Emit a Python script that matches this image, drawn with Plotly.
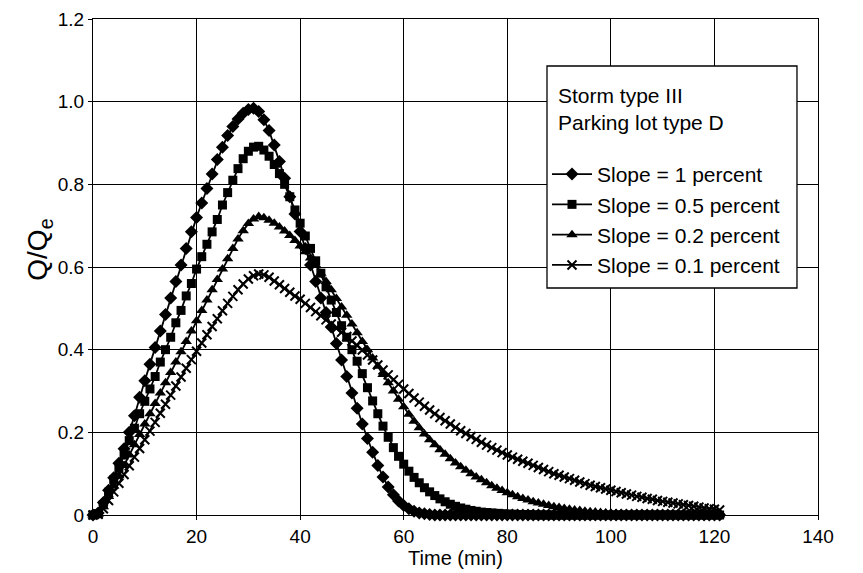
import plotly.graph_objects as go

time_min = list(range(0, 122))

slope_1 = [
    0, 0.005, 0.03, 0.06, 0.09, 0.125, 0.16, 0.20, 0.24, 0.285,
    0.325, 0.365, 0.405, 0.445, 0.485, 0.525, 0.565, 0.605, 0.645, 0.685,
    0.72, 0.755, 0.79, 0.825, 0.86, 0.89, 0.918, 0.94, 0.958, 0.972,
    0.981, 0.984, 0.976, 0.956, 0.93, 0.895, 0.855, 0.815, 0.77, 0.728,
    0.686, 0.645, 0.605, 0.565, 0.525, 0.49, 0.455, 0.415, 0.375, 0.335,
    0.295, 0.258, 0.22, 0.185, 0.152, 0.12, 0.092, 0.068, 0.049, 0.034,
    0.023, 0.015, 0.009, 0.005, 0.003, 0.001, 0, 0, 0, 0,
    0, 0, 0, 0, 0, 0, 0, 0, 0, 0,
    0, 0, 0, 0, 0, 0, 0, 0, 0, 0,
    0, 0, 0, 0, 0, 0, 0, 0, 0, 0,
    0, 0, 0, 0, 0, 0, 0, 0, 0, 0,
    0, 0, 0, 0, 0, 0, 0, 0, 0, 0,
    0, 0,
]

slope_05 = [
    0, 0.003, 0.025, 0.055, 0.085, 0.115, 0.145, 0.18, 0.21, 0.245,
    0.275, 0.305, 0.335, 0.37, 0.40, 0.43, 0.465, 0.495, 0.53, 0.56,
    0.595, 0.625, 0.655, 0.685, 0.715, 0.75, 0.78, 0.81, 0.838, 0.862,
    0.88, 0.89, 0.892, 0.883, 0.868, 0.848, 0.826, 0.80, 0.77, 0.738,
    0.706, 0.675, 0.645, 0.615, 0.585, 0.552, 0.52, 0.49, 0.458, 0.43,
    0.40, 0.372, 0.342, 0.308, 0.276, 0.245, 0.215, 0.188, 0.163, 0.142,
    0.123, 0.106, 0.091, 0.078, 0.066, 0.056, 0.047, 0.039, 0.032, 0.026,
    0.021, 0.017, 0.014, 0.011, 0.009, 0.007, 0.006, 0.005, 0.004, 0.003,
    0.002, 0.002, 0.001, 0.001, 0.001, 0, 0, 0, 0, 0,
    0, 0, 0, 0, 0, 0, 0, 0, 0, 0,
    0, 0, 0, 0, 0, 0, 0, 0, 0, 0,
    0, 0, 0, 0, 0, 0, 0, 0, 0, 0,
    0, 0,
]

slope_02 = [
    0, 0.002, 0.02, 0.045, 0.07, 0.095, 0.12, 0.145, 0.17, 0.195,
    0.22, 0.245, 0.27, 0.295, 0.32, 0.345, 0.37, 0.395, 0.42, 0.445,
    0.47, 0.495, 0.52, 0.545, 0.57, 0.595, 0.62, 0.645, 0.668, 0.688,
    0.705, 0.716, 0.722, 0.719, 0.713, 0.706, 0.697, 0.687, 0.676, 0.664,
    0.651, 0.637, 0.622, 0.605, 0.585, 0.565, 0.545, 0.524, 0.503, 0.483,
    0.462, 0.441, 0.42, 0.40, 0.38, 0.36, 0.34, 0.32, 0.30, 0.28,
    0.262, 0.244, 0.227, 0.211, 0.196, 0.182, 0.17, 0.158, 0.147, 0.136,
    0.126, 0.117, 0.108, 0.10, 0.092, 0.085, 0.078, 0.071, 0.065, 0.059,
    0.054, 0.049, 0.044, 0.04, 0.036, 0.032, 0.029, 0.026, 0.023, 0.02,
    0.018, 0.016, 0.014, 0.012, 0.011, 0.009, 0.008, 0.007, 0.006, 0.005,
    0.004, 0.003, 0.003, 0.002, 0.002, 0.002, 0.001, 0.001, 0.001, 0.001,
    0.001, 0, 0, 0, 0, 0, 0, 0, 0, 0,
    0, 0,
]

slope_01 = [
    0, 0.002, 0.015, 0.035, 0.056, 0.077, 0.098, 0.119, 0.14, 0.161,
    0.182, 0.203, 0.224, 0.246, 0.268, 0.29, 0.312, 0.334, 0.355, 0.376,
    0.396, 0.416, 0.436, 0.456, 0.475, 0.494, 0.512, 0.529, 0.545, 0.559,
    0.571, 0.579, 0.583, 0.581, 0.575, 0.566, 0.557, 0.548, 0.539, 0.53,
    0.522, 0.512, 0.502, 0.492, 0.482, 0.472, 0.462, 0.452, 0.442, 0.432,
    0.421, 0.41, 0.399, 0.387, 0.375, 0.363, 0.351, 0.339, 0.327, 0.316,
    0.305, 0.294, 0.283, 0.273, 0.263, 0.254, 0.245, 0.236, 0.228, 0.22,
    0.212, 0.204, 0.197, 0.19, 0.183, 0.176, 0.169, 0.163, 0.157, 0.151,
    0.145, 0.14, 0.135, 0.13, 0.125, 0.12, 0.115, 0.11, 0.105, 0.10,
    0.096, 0.092, 0.088, 0.084, 0.08, 0.076, 0.072, 0.069, 0.066, 0.063,
    0.06, 0.057, 0.054, 0.051, 0.048, 0.045, 0.043, 0.04, 0.038, 0.035,
    0.033, 0.031, 0.029, 0.027, 0.025, 0.023, 0.021, 0.019, 0.017, 0.015,
    0.014, 0.012,
]

series_names = [
    "Slope = 1 percent",
    "Slope = 0.5 percent",
    "Slope = 0.2 percent",
    "Slope = 0.1 percent",
]
series_values = [slope_1, slope_05, slope_02, slope_01]
series_symbols = ["diamond", "square", "triangle-up", "x-thin"]
series_sizes = [10, 9, 10, 9]

legend_header = ["Storm type III", "Parking lot type D"]

x_tick_vals = [0, 20, 40, 60, 80, 100, 120, 140]
x_tick_text = ["0", "20", "40", "60", "80", "100", "120", "140"]
y_tick_vals = [0, 0.2, 0.4, 0.6, 0.8, 1.0, 1.2]
y_tick_text = ["0", "0.2", "0.4", "0.6", "0.8", "1.0", "1.2"]

FONT = "Liberation Sans, Arial, sans-serif"

fig = go.Figure()
for name, vals, sym, sz in zip(series_names, series_values, series_symbols, series_sizes):
    marker = dict(symbol=sym, size=sz, color="black")
    if sym == "x-thin":
        marker["line"] = dict(color="black", width=2)
    fig.add_trace(go.Scatter(
        x=time_min, y=vals, name=name, mode="lines+markers",
        line=dict(color="black", width=1.8),
        marker=marker, cliponaxis=False,
    ))

# legend frame (drawn as a shape so header lines can sit inside it)
fig.add_shape(type="rect", xref="paper", yref="paper",
              x0=0.6262, x1=0.971, y0=0.4577, y1=0.9052,
              line=dict(color="black", width=1.3), fillcolor="white",
              layer="above")
fig.add_annotation(text=legend_header[0], xref="paper", yref="paper",
                   x=0.638, y=0.8448, xanchor="left", yanchor="middle",
                   showarrow=False, font=dict(family=FONT, size=21))
fig.add_annotation(text=legend_header[1], xref="paper", yref="paper",
                   x=0.638, y=0.7923, xanchor="left", yanchor="middle",
                   showarrow=False, font=dict(family=FONT, size=21))
fig.add_annotation(text="Q/Q<sub>e</sub>", xref="paper", yref="paper",
                   x=-0.073, y=0.535, xanchor="center", yanchor="middle",
                   textangle=-90, showarrow=False,
                   font=dict(family=FONT, size=28))

fig.update_layout(
    width=863, height=573,
    margin=dict(l=85, r=53, t=11, b=66, autoexpand=False),
    paper_bgcolor="white", plot_bgcolor="white",
    font=dict(family=FONT, size=19, color="black"),
    showlegend=True,
    legend=dict(
        x=0.6262, y=0.728, xanchor="left", yanchor="top",
        bgcolor="rgba(0,0,0,0)", borderwidth=0,
        font=dict(family=FONT, size=21, color="black"),
        itemwidth=40, tracegroupgap=0,
    ),
    xaxis=dict(
        range=[0, 140], tickvals=x_tick_vals, ticktext=x_tick_text,
        showgrid=True, gridcolor="black", gridwidth=1,
        showline=True, linecolor="black", linewidth=1.2, mirror=True,
        ticks="outside", ticklen=4, tickcolor="black",
        tickfont=dict(size=19),
        title=dict(text="Time (min)", font=dict(size=20), standoff=0),
        zeroline=False, automargin=False,
    ),
    yaxis=dict(
        range=[0, 1.2], tickvals=y_tick_vals, ticktext=y_tick_text,
        showgrid=True, gridcolor="black", gridwidth=1,
        showline=True, linecolor="black", linewidth=1.2, mirror=True,
        ticks="outside", ticklen=4, tickcolor="black",
        tickfont=dict(size=19),
        zeroline=False, automargin=False,
    ),
)

fig.write_html("out.html")
